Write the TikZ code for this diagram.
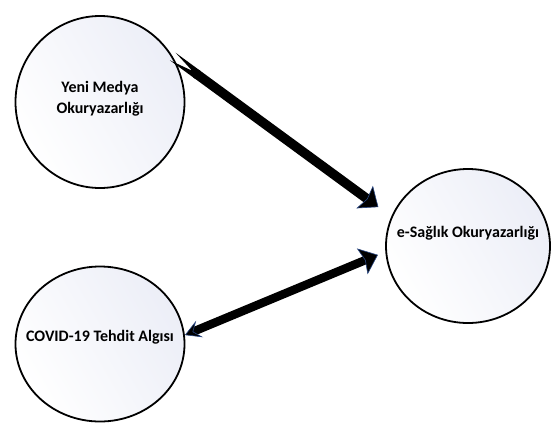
\documentclass[tikz,border=0pt]{standalone}
\usepackage{fontspec}
\setmainfont{Carlito}
\usetikzlibrary{shapes,arrows,positioning,shapes.geometric,calc,arrows.meta}
\definecolor{tipblue}{RGB}{40,70,130}
\definecolor{fillblue}{RGB}{236,238,247}

\begin{document}
\begin{tikzpicture}[x=1pt, y=-1pt, node distance=242pt,
  font=\bfseries\fontsize{16}{21}\selectfont,
  var/.style={draw, ellipse, line width=1.8pt, left color=fillblue, right color=white,
    shading angle=-60, minimum width=169pt, minimum height=172pt, inner sep=0pt},
  head/.tip={Stealth[length=17pt, width=28pt, inset=3pt, line width=0.6pt, fill=black, color=tipblue]},
  barb/.tip={Stealth[length=16pt, width=18pt, inset=7pt, line width=0.6pt, fill=black, color=tipblue]}]
\useasboundingbox (0,0) rectangle (551,424);

\node[var, label={[align=center, yshift=3pt]center:Yeni Medya\\Okuryazarlığı}] (n0) at (100,102) {};
\node[var, below of = n0, minimum height=155pt, label={[yshift=7pt]center:COVID-19 Tehdit Algısı}] (n1) {};
\node[var, minimum width=164pt, minimum height=154pt, label={[yshift=13pt]center:e-Sağlık Okuryazarlığı}] (n2) at (468,246) {};

\path[line width=9.5pt]
  (n0.32) edge[{Triangle Cap[reversed, length=24pt]}-head, shorten >=16pt] (n2.159)
  (n1.6) edge[barb-head, line width=8.5pt, shorten >=8pt] (n2.184)
;
\end{tikzpicture}
\end{document}
